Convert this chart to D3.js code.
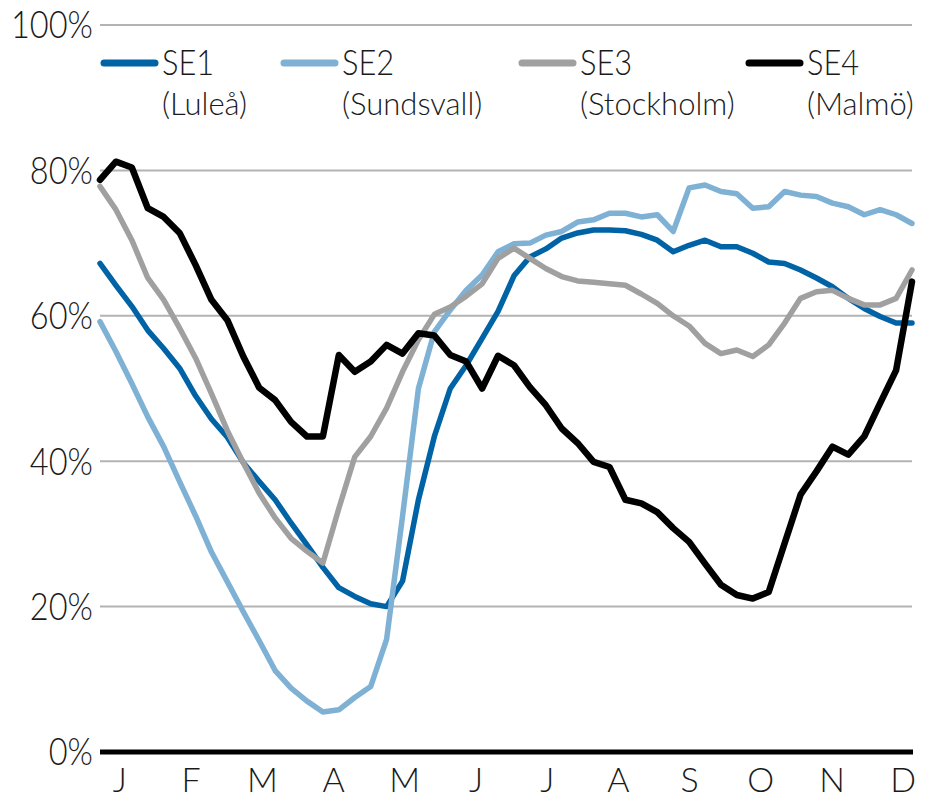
<!DOCTYPE html>
<html>
<head>
<meta charset="utf-8">
<script src="https://cdn.jsdelivr.net/npm/d3@7"></script>
<style>
  body { margin: 0; background: #fff; }
  svg { display: block; }
  text { font-family: Lato, "Liberation Sans", sans-serif; font-weight: 300; fill: #1a1a1a; }
</style>
</head>
<body>
<svg id="chart"></svg>
<script>
// weekly share per price area, week 1..52 (percent)
const areas = ["SE1", "SE2", "SE3", "SE4"];
const cities = ["(Luleå)", "(Sundsvall)", "(Stockholm)", "(Malmö)"];
const colors = ["#0063a6", "#7eb1d4", "#a0a0a0", "#000000"];

const se1 = [67.2, 64.2, 61.3, 58.0, 55.5, 52.8, 49.0, 45.8, 43.3, 39.8, 37.2, 34.7, 31.5, 28.5, 25.4, 22.6, 21.4, 20.4, 20.0, 23.5,
  34.7, 43.4, 50.0, 53.2, 56.9, 60.6, 65.5, 68.1, 69.2, 70.7, 71.4, 71.8, 71.8, 71.7, 71.2, 70.4, 68.8, 69.7, 70.4, 69.5,
  69.5, 68.6, 67.4, 67.2, 66.3, 65.2, 64.0, 62.4, 61.0, 59.9, 59.0, 59.0];
const se2 = [59.2, 55.1, 50.7, 46.1, 42.0, 37.2, 32.5, 27.5, 23.4, 19.3, 15.3, 11.2, 8.8, 7.0, 5.5, 5.8, 7.5, 9.0, 15.5, 32.4,
  50.0, 57.8, 60.8, 63.5, 65.6, 68.8, 69.9, 70.0, 71.1, 71.6, 72.9, 73.2, 74.1, 74.1, 73.6, 73.9, 71.6, 77.6, 78.0, 77.1,
  76.8, 74.8, 75.0, 77.1, 76.6, 76.4, 75.5, 75.0, 73.9, 74.6, 73.9, 72.7];
const se3 = [77.8, 74.6, 70.4, 65.2, 62.2, 58.3, 54.2, 49.3, 44.2, 39.8, 35.6, 32.2, 29.4, 27.6, 26.0, 33.5, 40.6, 43.4, 47.3, 52.3,
  56.7, 60.2, 61.2, 62.7, 64.4, 67.9, 69.3, 67.9, 66.5, 65.4, 64.8, 64.6, 64.4, 64.2, 63.0, 61.7, 60.0, 58.6, 56.2, 54.8,
  55.3, 54.4, 56.0, 59.0, 62.4, 63.3, 63.5, 62.4, 61.5, 61.5, 62.4, 66.3];
const se4 = [78.7, 81.2, 80.4, 74.8, 73.6, 71.4, 67.0, 62.2, 59.4, 54.4, 50.1, 48.4, 45.4, 43.4, 43.4, 54.6, 52.3, 53.7, 56.0, 54.8,
  57.6, 57.3, 54.6, 53.7, 50.0, 54.5, 53.2, 50.2, 47.7, 44.5, 42.5, 39.9, 39.2, 34.7, 34.2, 33.0, 30.8, 28.9, 25.9, 23.0,
  21.6, 21.1, 22.0, 28.7, 35.4, 38.6, 42.0, 40.9, 43.4, 48.0, 52.5, 64.7];

const months = ["J", "F", "M", "A", "M", "J", "J", "A", "S", "O", "N", "D"];
const yTicks = [0, 20, 40, 60, 80, 100];

const width = 933, height = 800;
const svg = d3.select("#chart").attr("width", width).attr("height", height);

const x = d3.scaleLinear().domain([0, se1.length - 1]).range([100, 912]);
const y = d3.scaleLinear().domain([0, 100]).range([752, 25]);
// month labels sit roughly every 4.45 weeks, starting a bit after week 1
const xMonth = d3.scalePoint().domain(d3.range(months.length)).range([x(1.25), x(50.45)]);

// squeeze text horizontally to get closer to the narrow original face
function condense(sel, k) {
  sel.each(function () {
    const w = this.getComputedTextLength();
    d3.select(this).attr("textLength", w * k).attr("lengthAdjust", "spacingAndGlyphs");
  });
}

// gridlines
svg.append("g")
  .selectAll("line")
  .data(yTicks.filter(d => d > 0))
  .join("line")
  .attr("x1", 100).attr("x2", 912)
  .attr("y1", d => y(d)).attr("y2", d => y(d))
  .attr("stroke", "#b3b3b3")
  .attr("stroke-width", 2);

// y labels
svg.append("g")
  .selectAll("text")
  .data(yTicks)
  .join("text")
  .attr("x", 93)
  .attr("y", d => y(d))
  .attr("dy", "0.36em")
  .attr("text-anchor", "end")
  .attr("font-size", 37)
  .text(d => d + "%")
  .call(condense, 0.88);

// series
const series = [se1, se2, se3, se4];
const line = d3.line().x((d, i) => x(i)).y(d => y(d));

svg.append("g")
  .selectAll("path")
  .data(series)
  .join("path")
  .attr("d", line)
  .attr("fill", "none")
  .attr("stroke", (d, i) => colors[i])
  .attr("stroke-width", (d, i) => i === 3 ? 6.5 : 5.5)
  .attr("stroke-linejoin", "round")
  .attr("stroke-linecap", "round");

// baseline
svg.append("line")
  .attr("x1", 100).attr("x2", 913)
  .attr("y1", y(0)).attr("y2", y(0))
  .attr("stroke", "#000")
  .attr("stroke-width", 5);

// month labels
svg.append("g")
  .selectAll("text")
  .data(months)
  .join("text")
  .attr("x", (d, i) => xMonth(i))
  .attr("y", 792)
  .attr("text-anchor", "middle")
  .attr("font-size", 34)
  .text(d => d);

// legend
const legendX = [100, 280, 518, 745];
const legend = svg.append("g")
  .selectAll("g")
  .data(areas)
  .join("g")
  .attr("transform", (d, i) => `translate(${legendX[i]},0)`);

legend.append("line")
  .attr("x1", 4).attr("x2", 55)
  .attr("y1", 63).attr("y2", 63)
  .attr("stroke", (d, i) => colors[i])
  .attr("stroke-width", 7)
  .attr("stroke-linecap", "round");

legend.append("text")
  .attr("x", 62)
  .attr("y", 75)
  .attr("font-size", 35)
  .text(d => d)
  .call(condense, 0.88);

legend.append("text")
  .attr("x", 62)
  .attr("y", 115)
  .attr("font-size", 31)
  .text((d, i) => cities[i]);
</script>
</body>
</html>
